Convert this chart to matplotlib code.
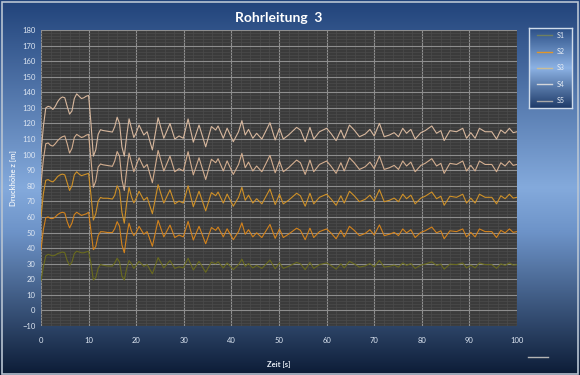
import numpy as np
import matplotlib
matplotlib.use("Agg")
import matplotlib.pyplot as plt
from matplotlib.lines import Line2D

plt.rcParams['font.family'] = ['Lato', 'DejaVu Sans']

# time axis [s]
t = [0, 0.5, 1, 1.5, 2, 2.5, 3, 3.5, 4, 4.5, 5, 5.5, 6, 6.5, 7, 7.5, 8, 8.5, 9, 9.5,
     10, 10.5, 11, 11.5, 12, 12.5, 13, 14, 15, 15.5, 16, 16.5, 17, 17.5, 18, 18.5, 19, 19.5, 20,
     20.6, 21.6, 22.3, 23.4, 24.6, 25.8, 27.1, 28.1, 29, 29.9,
     30.9, 32, 33.2, 34.6, 35.8, 36.7, 37.2, 38.3, 39.1, 40.4,
     41.5, 42.2, 42.9, 43.6, 44.5, 45.3, 46.4, 48.1, 49.2, 50.1,
     50.9, 52, 53.7, 54.5, 55.5, 56.5, 57.3, 58.5, 60, 60.9,
     62, 63, 63.7, 64.8, 65.8, 66.9, 68.1, 69.1, 70, 71.1,
     72.1, 73.2, 74.2, 75.1, 76, 76.8, 77.7, 78.6, 79.8, 80.7,
     82.1, 83.1, 84, 84.7, 85.9, 87.3, 88.6, 89.4, 90.3, 91.2,
     92.1, 93.3, 94.7, 95.7, 96.6, 97.5, 98.4, 99.2, 100]

s5 = [101, 118, 130, 131, 130.5, 129, 131, 134, 136, 137, 136.5, 131, 126, 128, 136, 139, 137.5, 136, 136.5, 137.5,
      138, 120, 99, 103, 113, 116, 115.5, 115, 114.5, 118, 124, 120, 105, 99, 112, 123, 117, 111, 114,
      119, 112.6, 114.7, 103, 123.7, 110.5, 120, 110, 112, 110.5,
      122.9, 108, 119, 105, 118, 115.8, 118.4, 110.5, 117, 108.3,
      114.7, 121.8, 112.6, 116.2, 110.5, 113.7, 110, 120.5, 109.4, 116.9,
      110, 112.6, 117.5, 115.8, 108.3, 117.5, 110, 114.7, 116.9, 113.7,
      109, 115.8, 110.5, 119, 115.8, 111.5, 113.2, 116.2, 112, 120.1,
      111.5, 112.6, 114.1, 111.5, 116.9, 113.7, 116.2, 110, 114.1, 115.4,
      118.4, 113.7, 115.4, 109, 115.4, 114.7, 116.9, 110.5, 114.1, 110.5,
      116.9, 114.7, 114.7, 110, 115.8, 113.7, 116.9, 114.1, 114.7]

s4 = [81, 97, 107, 107.5, 106, 105.5, 107, 109, 110.5, 111.5, 112, 107, 101, 104, 111, 113, 112, 111, 111.5, 112.5,
      113, 97, 79, 83, 92, 94, 93.5, 93, 92.5, 96, 102, 99, 84, 77, 90, 101, 95, 89, 93,
      98, 91.6, 93.7, 82, 102.7, 89.5, 99, 89, 91, 89.5,
      101.9, 87, 98, 84, 97, 94.8, 97.4, 89.5, 96, 87.3,
      93.7, 100.8, 91.6, 95.2, 89.5, 92.7, 89, 99.5, 88.4, 95.9,
      89, 91.6, 96.5, 94.8, 87.3, 96.5, 89, 93.7, 95.9, 92.7,
      88, 94.8, 89.5, 98, 94.8, 90.5, 92.2, 95.2, 91, 99.1,
      90.5, 91.6, 93.1, 90.5, 95.9, 92.7, 95.2, 89, 93.1, 94.4,
      97.4, 92.7, 94.4, 88, 94.4, 93.7, 95.9, 89.5, 93.1, 89.5,
      95.9, 93.7, 93.7, 89, 94.8, 92.7, 95.9, 93.1, 93.7]

s3 = [60, 75, 83.5, 84, 83, 82.5, 84, 86, 87, 87.5, 87, 82, 77, 80, 87, 89, 87.5, 86.5, 87, 87.5,
      88, 74, 58, 62, 70, 72.5, 72, 72, 71.5, 74, 80, 77, 63, 56, 69, 79, 73, 69, 72,
      76.5, 70.7, 72.6, 62.1, 80.7, 68.9, 77.4, 68.4, 70.2, 68.9,
      80.0, 66.6, 76.5, 63.9, 75.6, 73.6, 76.0, 68.9, 74.7, 66.9,
      72.6, 79.0, 70.7, 74.0, 68.9, 71.7, 68.4, 77.9, 67.9, 74.6,
      68.4, 70.7, 75.2, 73.6, 66.9, 75.2, 68.4, 72.6, 74.6, 71.7,
      67.5, 73.6, 68.9, 76.5, 73.6, 69.8, 71.3, 74.0, 70.2, 77.5,
      69.8, 70.7, 72.1, 69.8, 74.6, 71.7, 74.0, 68.4, 72.1, 73.3,
      76.0, 71.7, 73.3, 67.5, 73.3, 72.6, 74.6, 68.9, 72.1, 68.9,
      74.6, 72.6, 72.6, 68.4, 73.6, 71.7, 74.6, 72.1, 72.6]

s2 = [39, 52, 59.5, 60, 59, 59, 60, 61.5, 62.5, 63, 62.5, 57, 53, 56, 61.5, 63, 62, 61, 61.5, 62,
      63, 51, 39, 41, 48, 50.5, 50.5, 50, 50, 52.5, 57, 54, 42, 37, 48, 56, 51, 48, 50,
      54.0, 48.9, 50.6, 41.2, 57.8, 47.2, 54.8, 46.8, 48.4, 47.2,
      57.1, 45.2, 54.0, 42.8, 53.2, 51.4, 53.5, 47.2, 52.4, 45.4,
      50.6, 56.2, 48.9, 51.8, 47.2, 49.8, 46.8, 55.2, 46.3, 52.3,
      46.8, 48.9, 52.8, 51.4, 45.4, 52.8, 46.8, 50.6, 52.3, 49.8,
      46.0, 51.4, 47.2, 54.0, 51.4, 48.0, 49.4, 51.8, 48.4, 54.9,
      48.0, 48.9, 50.1, 48.0, 52.3, 49.8, 51.8, 46.8, 50.1, 51.1,
      53.5, 49.8, 51.1, 46.0, 51.1, 50.6, 52.3, 47.2, 50.1, 47.2,
      52.3, 50.6, 50.6, 46.8, 51.4, 49.8, 52.3, 50.1, 50.6]

s1 = [19, 28, 35, 36, 35.5, 35, 35.5, 36.5, 37, 37.5, 37, 32, 29, 31, 36.5, 38, 37.5, 37, 37, 37.5,
      38, 30, 19.5, 21, 27, 29.5, 29, 28.5, 28.5, 30.5, 33.5, 31, 22, 19.5, 27, 32, 30, 27, 29,
      31.5, 28.3, 29.4, 23.5, 33.9, 27.3, 32.0, 27.0, 28.0, 27.3,
      33.5, 26.0, 31.5, 24.5, 31.0, 29.9, 31.2, 27.3, 30.5, 26.2,
      29.4, 32.9, 28.3, 30.1, 27.3, 28.9, 27.0, 32.3, 26.7, 30.5,
      27.0, 28.3, 30.8, 29.9, 26.2, 30.8, 27.0, 29.4, 30.5, 28.9,
      26.5, 29.9, 27.3, 31.5, 29.9, 27.8, 28.6, 30.1, 28.0, 32.1,
      27.8, 28.3, 29.1, 27.8, 30.5, 28.9, 30.1, 27.0, 29.1, 29.7,
      31.2, 28.9, 29.7, 26.5, 29.7, 29.4, 30.5, 27.3, 29.1, 27.3,
      30.5, 29.4, 29.4, 27.0, 29.9, 28.9, 30.5, 29.1, 29.4]

names = ["S1", "S2", "S3", "S4", "S5"]
line_colors = ["#6a6b1e", "#d4831c", "#cf9128", "#d3ae90", "#d8b89e"]
legend_colors = ["#6f8060", "#e0962a", "#cbbd96", "#d4d6da", "#a8a8a8"]

fig = plt.figure(figsize=(5.8, 3.75), dpi=100)

# background gradient
bg = fig.add_axes([0, 0, 1, 1], zorder=-10)
grad = np.linspace(0, 1, 256).reshape(-1, 1)
cmap_bg = matplotlib.colors.LinearSegmentedColormap.from_list(
    "bg", [(0, "#21437a"), (0.5, "#84aadc"), (0.62, "#6d93c8"), (1, "#0c1c36")])
bg.imshow(grad, aspect="auto", cmap=cmap_bg, extent=[0, 1, 0, 1], origin="upper")
bg.set_axis_off()
bg.add_patch(plt.Rectangle((0.003, 0.004), 0.994, 0.99, fill=False, ec="#b8c4d2", lw=1.2))
bg.plot([0.91, 0.945], [0.048, 0.048], color="#b4b4b4", lw=1)

ax = fig.add_axes([41 / 580, 49 / 375, 476 / 580, 296 / 375])
ax.set_facecolor("#3b3b3b")
for y, c in zip([s1, s2, s3, s4, s5], line_colors):
    ax.plot(t, y, color=c, lw=0.8, solid_joinstyle="round")

ax.set_xlim(0, 100)
ax.set_ylim(-10, 180)
ax.set_xticks(range(0, 101, 10))
ax.set_yticks(range(-10, 181, 10))
ax.set_xticks(np.arange(0, 101, 2), minor=True)
ax.set_yticks(np.arange(-10, 181, 2), minor=True)
ax.grid(which="minor", color="#4b4b4b", lw=0.5)
ax.grid(which="major", color="#8e8e8e", lw=0.8)
ax.set_axisbelow(True)
for s in ax.spines.values():
    s.set_visible(False)
ax.tick_params(which="both", length=0, colors="#dde6f2", labelsize=5.5)
ax.tick_params(axis="x", pad=8)
ax.tick_params(axis="y", pad=4)

ax.set_title("Rohrleitung  3", color="white", fontsize=10, fontweight="bold", pad=6)
ax.set_xlabel("Zeit [s]", color="#e8eef6", fontsize=5.5, fontweight="bold", labelpad=12)
ax.set_ylabel("Druckhöhe z [m]", color="#e8eef6", fontsize=5.5, fontweight="bold", labelpad=4)

# legend box
lax = fig.add_axes([529 / 580, 1 - 108 / 375, 43 / 580, 80 / 375])
cmap_lg = matplotlib.colors.LinearSegmentedColormap.from_list(
    "lg", [(0, "#2b4f86"), (0.5, "#8cb2e4"), (1, "#1e3a68")])
lax.imshow(grad, aspect="auto", cmap=cmap_lg, extent=[0, 1, 0, 1], origin="upper")
lax.set_xlim(0, 1)
lax.set_ylim(0, 1)
lax.set_xticks([])
lax.set_yticks([])
for s in lax.spines.values():
    s.set_color("#d0dcea")
    s.set_linewidth(1)
handles = [Line2D([], [], color=c, lw=1) for c in legend_colors]
leg = lax.legend(handles, names, loc="center", frameon=False, fontsize=5,
                 labelcolor="#e8eef6", handlelength=2.2, labelspacing=1.35,
                 borderpad=0.2, handletextpad=0.6)

fig.savefig("out.png", dpi=100)
